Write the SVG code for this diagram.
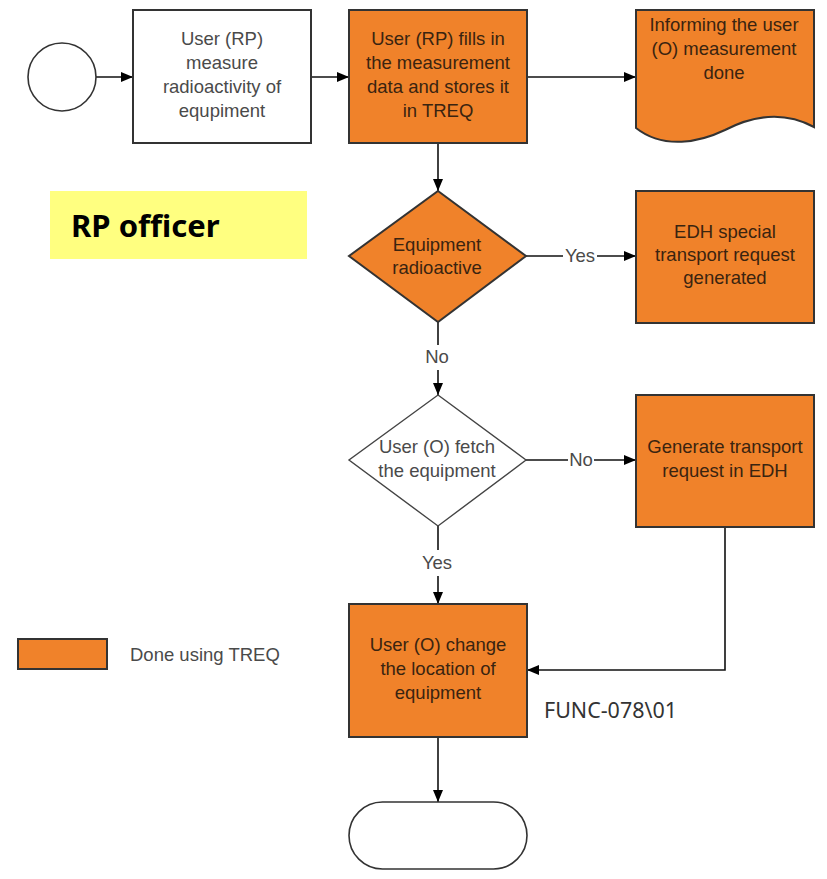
<svg xmlns="http://www.w3.org/2000/svg" width="827" height="879" viewBox="0 0 827 879">
<defs>
<marker id="ah" markerWidth="12" markerHeight="10" refX="12" refY="5" orient="auto" markerUnits="userSpaceOnUse">
<path d="M0,0 L12,5 L0,10 Z" fill="#000"/>
</marker>
<style>
.sh{stroke:#333;stroke-width:2}
.or{fill:#F0822A}
.wh{fill:#fff}
.t{font-family:"Liberation Sans",Arial,sans-serif;font-size:18.5px;text-anchor:middle}
.tg{fill:#4a4a4a}
.td{fill:#3a2410}
.ln{fill:none;stroke:#111;stroke-width:1.6}
.lb{font-family:"Liberation Sans",Arial,sans-serif;font-size:18.5px;text-anchor:middle;fill:#4a4a4a}
</style>
</defs>
<rect width="827" height="879" fill="#fff"/>

<g id="connectors">
<line class="ln" x1="96" y1="77" x2="133" y2="77" marker-end="url(#ah)"/>
<line class="ln" x1="311" y1="77" x2="349" y2="77" marker-end="url(#ah)"/>
<line class="ln" x1="527" y1="77" x2="636" y2="77" marker-end="url(#ah)"/>
<line class="ln" x1="438" y1="143" x2="438" y2="191" marker-end="url(#ah)"/>
<polyline class="ln" points="526,256 563,256"/>
<line class="ln" x1="597" y1="256" x2="636" y2="256" marker-end="url(#ah)"/>
<line class="ln" x1="438" y1="322" x2="438" y2="345"/>
<line class="ln" x1="438" y1="370" x2="438" y2="395" marker-end="url(#ah)"/>
<line class="ln" x1="526" y1="460" x2="568" y2="460"/>
<line class="ln" x1="594" y1="460" x2="636" y2="460" marker-end="url(#ah)"/>
<line class="ln" x1="438" y1="526" x2="438" y2="550"/>
<line class="ln" x1="438" y1="576" x2="438" y2="604" marker-end="url(#ah)"/>
<polyline class="ln" points="725,527 725,670 527,670" marker-end="url(#ah)"/>
<line class="ln" x1="438" y1="737" x2="438" y2="802" marker-end="url(#ah)"/>
<text class="lb" x="580" y="262">Yes</text>
<text class="lb" x="437" y="363">No</text>
<text class="lb" x="581" y="466">No</text>
<text class="lb" x="437" y="569">Yes</text>
</g>

<g id="start">
<circle cx="62" cy="77" r="34" fill="#fff" stroke="#333" stroke-width="1.6"/>
</g>

<g id="measure">
<rect x="133" y="10" width="178" height="133" class="wh sh"/>
<text class="t tg" x="222" y="45">User (RP)</text>
<text class="t tg" x="222" y="69">measure</text>
<text class="t tg" x="222" y="93">radioactivity of</text>
<text class="t tg" x="222" y="117">equpiment</text>
</g>

<g id="fills">
<rect x="349" y="10" width="178" height="133" class="or sh"/>
<text class="t td" x="438" y="45">User (RP) fills in</text>
<text class="t td" x="438" y="69">the measurement</text>
<text class="t td" x="438" y="93">data and stores it</text>
<text class="t td" x="438" y="117">in TREQ</text>
</g>

<g id="inform">
<path d="M636,10 H814 V127 C786,112 756,114 725,130 C700,142 664,150 636,128 Z" class="or sh"/>
<text class="t td" x="724" y="31">Informing the user</text>
<text class="t td" x="724" y="55">(O) measurement</text>
<text class="t td" x="724" y="79">done</text>
</g>

<g id="role">
<rect x="50" y="191" width="257" height="68" fill="#FFFF80"/>
<text x="71" y="237" font-family="'Noto Sans','Open Sans',sans-serif" font-weight="bold" font-size="31" fill="#000">RP officer</text>
</g>

<g id="radioactive">
<polygon points="438,191 526,256 438,322 349,256" class="or sh"/>
<text class="t td" x="437" y="251">Equipment</text>
<text class="t td" x="437" y="274">radioactive</text>
</g>

<g id="edh-special">
<rect x="636" y="191" width="178" height="132" class="or sh"/>
<text class="t td" x="725" y="238">EDH special</text>
<text class="t td" x="725" y="261">transport request</text>
<text class="t td" x="725" y="284">generated</text>
</g>

<g id="fetch">
<polygon points="438,395 526,460 438,526 349,460" class="wh" stroke="#444" stroke-width="1.4"/>
<text class="t tg" x="437" y="453">User (O) fetch</text>
<text class="t tg" x="437" y="477">the equipment</text>
</g>

<g id="generate">
<rect x="636" y="395" width="178" height="132" class="or sh"/>
<text class="t td" x="725" y="453">Generate transport</text>
<text class="t td" x="725" y="477">request in EDH</text>
</g>

<g id="change">
<rect x="349" y="604" width="178" height="133" class="or sh"/>
<text class="t td" x="438" y="651">User (O) change</text>
<text class="t td" x="438" y="675">the location of</text>
<text class="t td" x="438" y="699">equipment</text>
</g>

<g id="end">
<rect x="349" y="802" width="178" height="67" rx="33.5" ry="33.5" fill="#fff" stroke="#333" stroke-width="1.6"/>
</g>

<g id="legend">
<rect x="18" y="639" width="89" height="30" class="or sh"/>
<text x="130" y="661" font-family="'Liberation Sans',Arial,sans-serif" font-size="18.5" fill="#4a4a4a">Done using TREQ</text>
</g>

<g id="code">
<text x="544" y="718" font-family="'Noto Sans','Open Sans',sans-serif" font-size="21" fill="#333" textLength="133" lengthAdjust="spacingAndGlyphs">FUNC-078\01</text>
</g>
</svg>
